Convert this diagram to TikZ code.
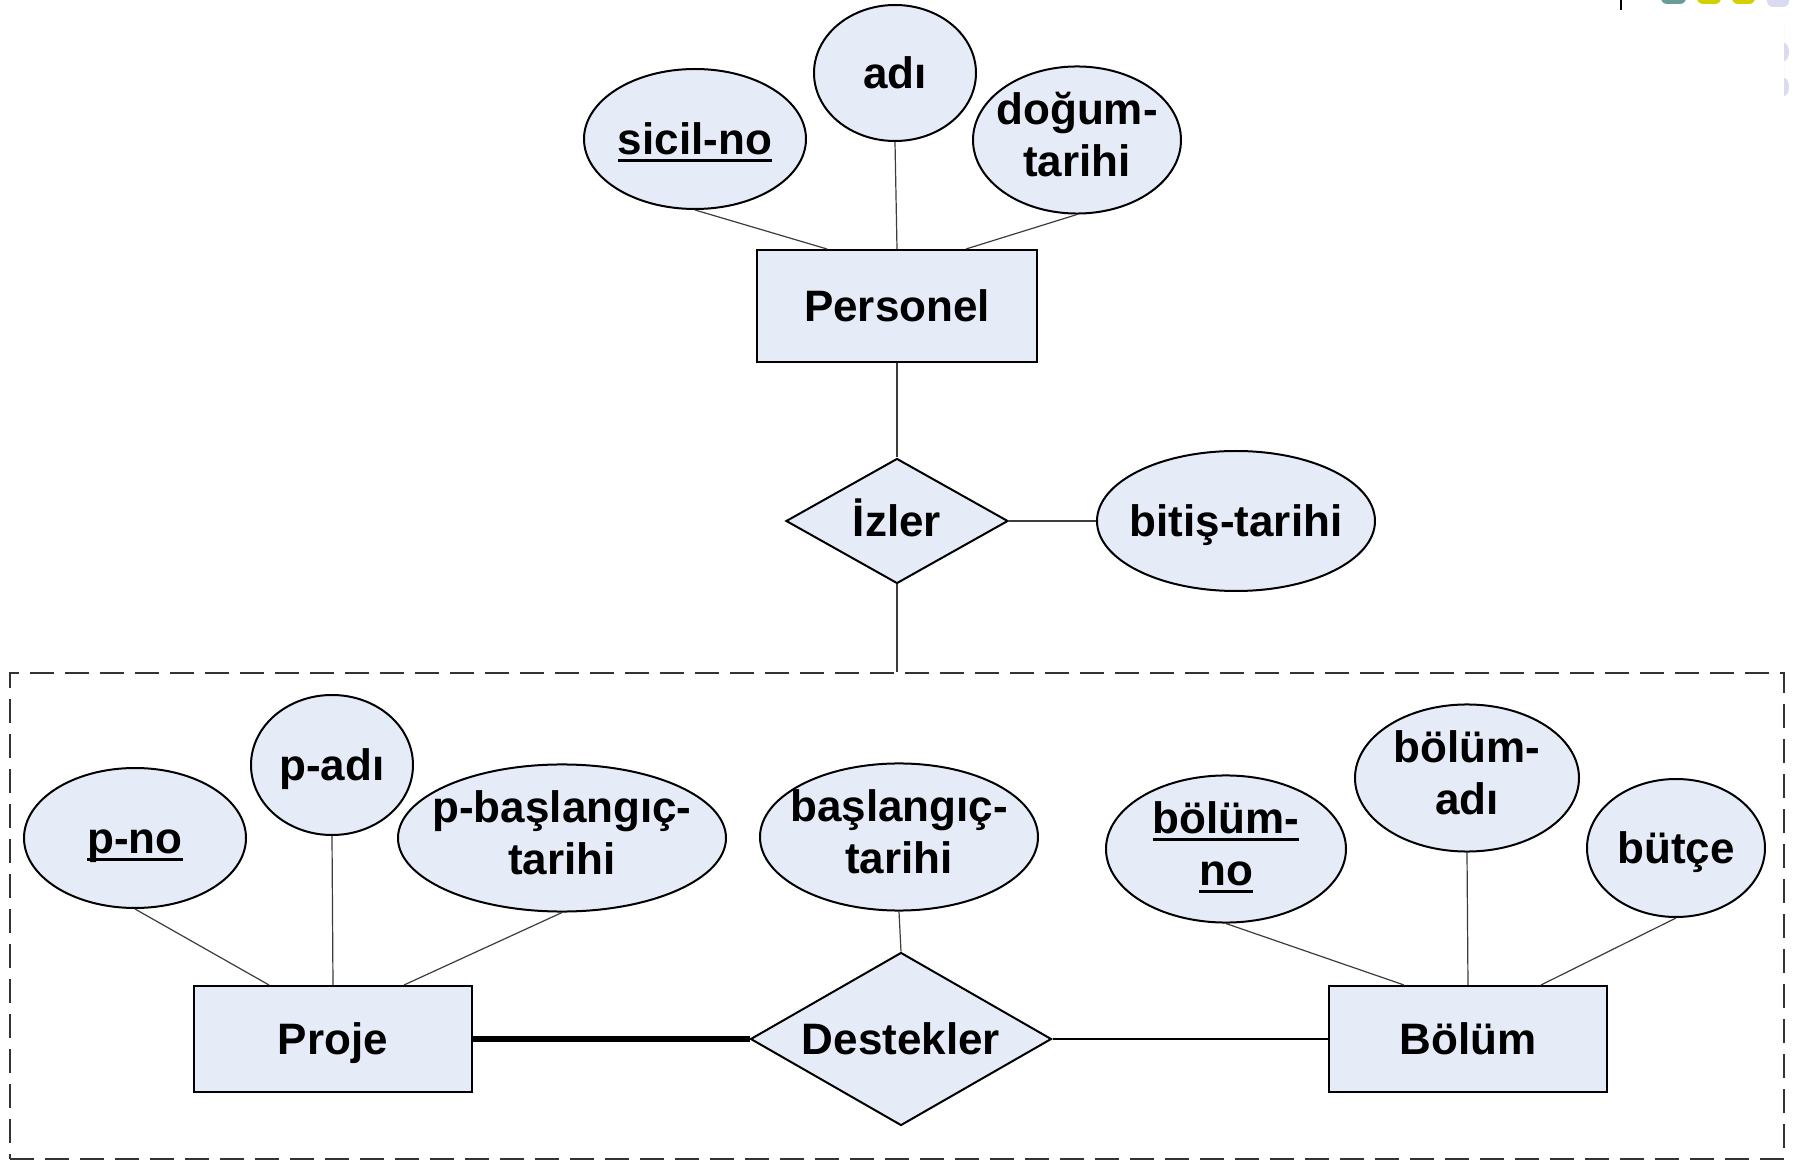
\documentclass[tikz,border=0pt]{standalone}
\usepackage{fontspec}
\setmainfont{Liberation Sans}
\usetikzlibrary{shapes.geometric}
\definecolor{shapefill}{RGB}{230,236,247}
\definecolor{linegray}{RGB}{60,60,60}
\definecolor{decoteal}{RGB}{106,154,154}
\definecolor{decoyellow}{RGB}{212,208,0}
\definecolor{decolav}{RGB}{218,218,240}
\newcommand\lbl[1]{\makebox[0pt]{\begin{tabular}{@{}c@{}}#1\end{tabular}}}
\newcommand\slbl[1]{\makebox[0pt]{#1}}
\newcommand\uln[1]{\setbox0\hbox{#1}\leavevmode\rlap{\rule[-3.6pt]{\wd0}{1.5pt}}\box0}
\tikzset{
  base/.style={draw=black, line width=1pt, fill=shapefill, inner sep=0pt,
    font=\fontsize{22}{26}\selectfont\bfseries},
  attr/.style={base, ellipse},
  sattr/.style={base, ellipse, text height=15.8pt, text depth=0pt},
  entity/.style={base, rectangle, text height=15.8pt, text depth=0pt},
  rel/.style={base, diamond, text height=15.8pt, text depth=0pt},
  conn/.style={draw=linegray, line width=0.6pt},
  midconn/.style={draw=linegray, line width=0.9pt},
  heavy/.style={draw=black, line width=2.6pt},
  aggbox/.style={draw=black!80, line width=1pt, dash pattern=on 12pt off 5.5pt, inner sep=0pt}
}
\begin{document}
\begin{tikzpicture}[x=0.5pt,y=-0.5pt]
\useasboundingbox (0,0) rectangle (1796,1160);
\fill[white] (0,0) rectangle (1796,1160);
% slide template remnants
\draw[black, line width=1pt] (1621,0) -- (1621,10);
\fill[decoteal, rounded corners=3pt] (1661,-20) rectangle (1686,4);
\fill[decoyellow, rounded corners=3pt] (1697,-20) rectangle (1721,4);
\fill[decoyellow, rounded corners=3pt] (1732,-20) rectangle (1755,4);
\fill[decolav, rounded corners=3pt] (1767,-20) rectangle (1789,7);
\fill[decolav] (1784,25) -- (1784,43) arc[start angle=-90, end angle=90, x radius=5, y radius=9] -- cycle;
\fill[decolav] (1784,60) -- (1784,78) arc[start angle=-90, end angle=90, x radius=5, y radius=9] -- cycle;

% aggregation box
\node[aggbox, minimum width=887pt, minimum height=243pt] (agg) at (897,916) {};

% Personel part
\node[entity, minimum width=140pt, minimum height=56pt] (pers) at (897,306) {Personel};
\node[sattr, minimum width=111pt, minimum height=70pt] (sicil) at (695,139) {\slbl{\uln{sicil-no}}};
\node[sattr, minimum width=81pt, minimum height=68pt] (adi) at (895,73) {\slbl{adı}};
\node[attr, minimum width=104pt, minimum height=69pt] (dogum) at (1077,140) {\lbl{doğum-\\tarihi}};
\node[rel, aspect=1.8, minimum width=111pt, minimum height=62.5pt] (izler) at (897,521) {İzler};
\node[sattr, minimum width=139pt, minimum height=70pt] (bitis) at (1236,521) {\slbl{bitiş-tarihi}};

\draw[conn] (sicil.south) -- ([xshift=-35pt]pers.north);
\draw[conn] (adi.south) -- (pers.north);
\draw[conn] (dogum.south) -- ([xshift=34.5pt]pers.north);
\draw[midconn] (pers.south) -- (izler.north);
\draw[midconn] (izler.east) -- (bitis.west);
\draw[midconn] (izler.south) -- (agg.north);

% Proje part
\node[entity, minimum width=139pt, minimum height=53pt] (proje) at (333,1039) {Proje};
\node[sattr, minimum width=111pt, minimum height=70pt] (pno) at (135,838) {\slbl{\uln{p-no}}};
\node[sattr, minimum width=81pt, minimum height=70pt] (padi) at (332,765) {\slbl{p-adı}};
\node[attr, minimum width=164pt, minimum height=70pt] (pbas) at (562,838) {\lbl{p-başlangıç-\\tarihi}};
\draw[conn] (pno.south) -- ([xshift=-32pt]proje.north);
\draw[conn] (padi.south) -- (proje.north);
\draw[conn] (pbas.south) -- ([xshift=35.5pt]proje.north);

% Bolum part
\node[entity, minimum width=139pt, minimum height=53pt] (bolum) at (1468,1039) {Bölüm};
\node[attr, minimum width=120pt, minimum height=69pt] (bno) at (1226,849) {\lbl{\uln{bölüm-}\\\uln{no}}};
\node[attr, minimum width=112pt, minimum height=63pt] (badi) at (1467,778) {\lbl{bölüm-\\adı}};
\node[sattr, minimum width=89pt, minimum height=69pt] (butce) at (1676,848) {\slbl{bütçe}};
\draw[conn] (bno.south) -- ([xshift=-32pt]bolum.north);
\draw[conn] (badi.south) -- (bolum.north);
\draw[conn] (butce.south) -- ([xshift=36.5pt]bolum.north);

% Destekler
\node[rel, aspect=1.74, minimum width=150.5pt, minimum height=86.5pt] (dest) at (901,1039) {Destekler};
\node[attr, minimum width=139pt, minimum height=70pt] (bas) at (899,837) {\lbl{başlangıç-\\tarihi}};
\draw[conn] (bas.south) -- (dest.north);
\draw[heavy] (proje.east) -- (dest.west);
\draw[draw=black, line width=1pt] (dest.east) -- (bolum.west);
\end{tikzpicture}
\end{document}
